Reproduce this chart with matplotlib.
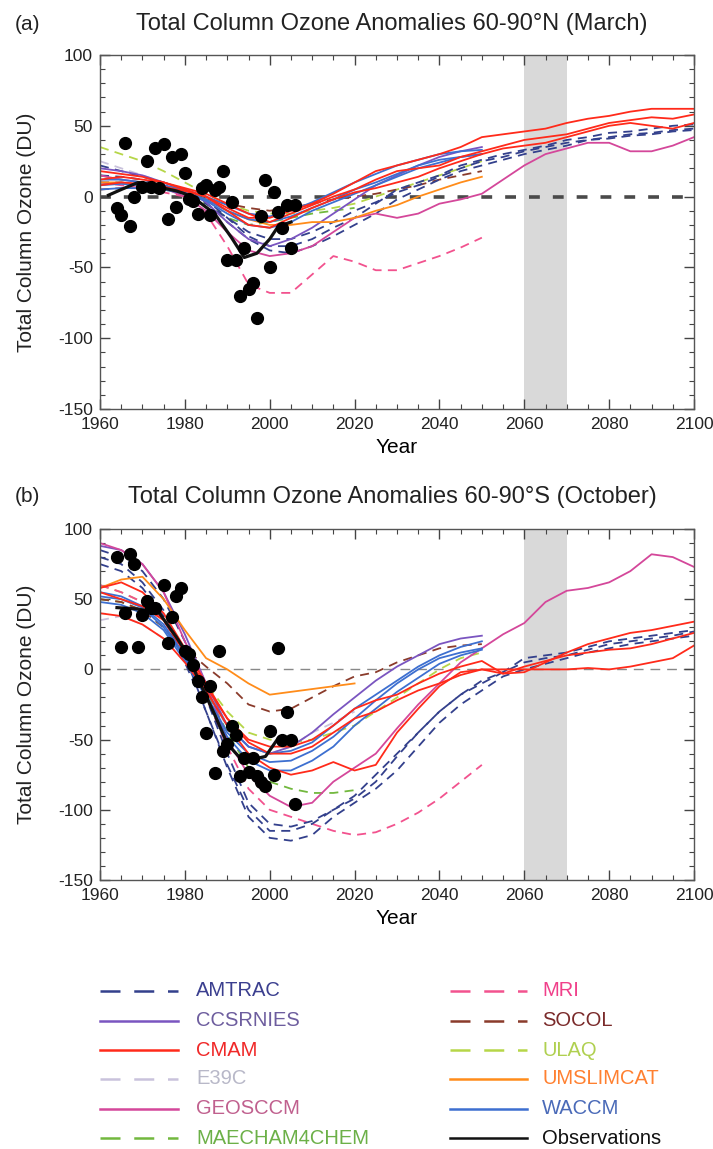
import numpy as np
import matplotlib
matplotlib.use('Agg')
import matplotlib.pyplot as plt
from matplotlib.ticker import MultipleLocator

plt.rcParams['font.family'] = ['Liberation Sans', 'DejaVu Sans']
plt.rcParams['text.color'] = '#222222'
plt.rcParams['axes.unicode_minus'] = False  # plain hyphen on tick labels, as in the original

# ---------------- data (5-year samples from 1960) ----------------
yrs = np.arange(1960, 2101, 5)

# (a) 60-90N March
amtrac_n = [[22, 18, 14, 10, 5, -2, -15, -28, -35, -35, -30, -22, -15, -5, 5, 10, 15, 22, 26, 30, 33, 36, 40, 42, 45, 46, 48, 50, 51],
            [15, 14, 12, 8, 3, -4, -18, -30, -38, -40, -35, -28, -20, -12, -2, 5, 12, 18, 22, 26, 30, 33, 36, 40, 42, 44, 45, 47, 48],
            [10, 10, 8, 6, 2, -5, -15, -25, -30, -30, -25, -18, -10, -4, 3, 8, 14, 20, 25, 28, 32, 35, 38, 40, 41, 43, 44, 46, 47]]
ccsrnies_n = [[20, 18, 15, 10, 5, -4, -18, -30, -35, -30, -22, -12, -2, 8, 15, 22, 28, 32, 35]]
cmam_n = [[12, 14, 12, 10, 5, 0, -8, -15, -15, -10, -5, 2, 10, 18, 22, 26, 30, 35, 42, 44, 46, 48, 52, 55, 57, 60, 62, 62, 62],
          [18, 16, 14, 10, 6, 2, -5, -12, -18, -12, -6, 0, 5, 12, 18, 20, 22, 28, 32, 36, 40, 42, 44, 48, 52, 54, 56, 55, 58],
          [8, 10, 9, 7, 4, 0, -10, -20, -22, -15, -8, -2, 3, 6, 10, 14, 20, 25, 30, 34, 36, 38, 42, 46, 50, 52, 50, 48, 52]]
e39c_n = [[25, 20, 15, 10, 5, 0, -5, -12, -15, -10, -5, 0, 5]]
geosccm_n = [[15, 12, 10, 6, 0, -10, -25, -38, -42, -40, -35, -25, -15, -12, -15, -12, -5, -2, 2, 12, 22, 30, 34, 38, 38, 32, 32, 36, 42]]
maecham_n = [[15, 12, 10, 5, 2, -5, -15, -20, -18, -15, -12, -10, -8]]
mri_n = [[10, 8, 6, 3, 0, -12, -35, -62, -68, -68, -55, -42, -46, -52, -52, -47, -42, -36, -29]]
socol_n = [[5, 6, 6, 5, 3, -2, -5, -8, -10, -8, -5, -2, 0, 2, 5, 8, 12, 15, 18]]
ulaq_n = [[35, 30, 25, 18, 10, 2, -5, -10, -12, -12, -10, -8, -5, 0, 5, 10, 15, 20, 25]]
umslimcat_n = [[10, 10, 8, 6, 3, -2, -10, -16, -20, -20, -18, -18, -15, -10, -6, 0, 5, 10, 14]]
waccm_n = [[12, 12, 10, 8, 5, 0, -6, -12, -14, -10, -4, 3, 10, 16, 22, 26, 30, 32, 33],
           [8, 9, 8, 6, 3, -2, -10, -16, -18, -14, -8, -2, 5, 10, 16, 22, 26, 28, 30],
           [5, 6, 6, 5, 2, -3, -12, -20, -22, -18, -10, -4, 2, 8, 14, 20, 24, 28, 30]]

obs_line_yr_n = [1962, 1965, 1969, 1972, 1975, 1978, 1980, 1983, 1987, 1991, 1994, 1997, 2000, 2002, 2005]
obs_line_n = [1, 5, 10, 8, 6, 4, 2, -3, -12, -29, -43, -40, -30, -21, -18]
obs_yr_n = [1964, 1965, 1966, 1967, 1968, 1970, 1971, 1972, 1973, 1974, 1975, 1976, 1977, 1978, 1979,
            1980, 1981, 1982, 1983, 1984, 1985, 1986, 1987, 1988, 1989, 1990, 1991, 1992, 1993, 1994,
            1995, 1996, 1997, 1998, 1999, 2000, 2001, 2002, 2003, 2004, 2005, 2006]
obs_n = [-8, -13, 38, -21, 0, 7, 25, 7, 34, 6, 37, -16, 28, -7, 30,
         17, -2, -3, -12, 6, 8, -13, 5, 7, 18, -45, -4, -45, -70, -36,
         -65, -61, -86, -14, 12, -50, 3, -11, -22, -6, -36, -6]

# (b) 60-90S October
amtrac_s = [[85, 80, 70, 50, 20, -20, -60, -95, -110, -112, -108, -100, -92, -80, -62, -45, -30, -18, -10, -2, 5, 8, 10, 14, 18, 20, 22, 24, 27],
            [80, 75, 62, 42, 10, -30, -70, -105, -120, -122, -118, -105, -95, -85, -72, -55, -38, -25, -15, -5, 0, 4, 8, 12, 15, 18, 20, 22, 24],
            [75, 70, 58, 38, 5, -30, -68, -100, -115, -115, -110, -100, -90, -75, -60, -45, -30, -18, -8, -2, 8, 10, 12, 16, 20, 22, 24, 26, 28]]
ccsrnies_s = [[88, 85, 75, 55, 25, -10, -40, -55, -60, -55, -45, -32, -20, -8, 2, 10, 18, 22, 24]]
cmam_s = [[58, 62, 55, 40, 15, -10, -35, -50, -55, -55, -50, -40, -28, -22, -18, -10, -3, 2, 6, -3, -2, 5, 12, 18, 22, 26, 28, 31, 34],
          [55, 50, 45, 35, 12, -12, -35, -52, -60, -60, -55, -45, -35, -30, -22, -15, -10, -4, 0, -3, 2, 6, 10, 12, 14, 15, 18, 22, 26],
          [40, 38, 32, 22, 5, -15, -40, -60, -70, -75, -72, -66, -72, -68, -45, -28, -12, -2, 0, 0, 0, 0, 0, 1, 0, 2, 5, 8, 17]]
e39c_s = [[35, 38, 32, 22, 5, -20, -40, -55, -60, -55, -45, -38, -30]]
geosccm_s = [[90, 85, 75, 55, 20, -10, -50, -75, -90, -98, -95, -80, -70, -60, -42, -25, -10, 5, 15, 25, 33, 48, 56, 58, 62, 70, 82, 80, 73]]
maecham_s = [[50, 48, 42, 30, 10, -15, -45, -70, -80, -85, -88, -88, -86]]
mri_s = [[60, 55, 48, 35, 10, -20, -55, -85, -100, -105, -110, -115, -118, -116, -110, -102, -92, -80, -68]]
socol_s = [[50, 48, 42, 30, 15, 2, -10, -25, -30, -28, -20, -12, -5, -2, 5, 10, 15, 17, 18]]
ulaq_s = [[60, 55, 48, 35, 15, -10, -30, -45, -50, -52, -50, -45, -40, -30, -20, -10, 0, 8, 12]]
umslimcat_s = [[58, 64, 66, 50, 28, 8, 0, -10, -18, -16, -14, -12, -10]]
waccm_s = [[55, 52, 45, 32, 10, -15, -40, -55, -60, -58, -52, -40, -28, -18, -8, 2, 10, 16, 20],
           [52, 50, 44, 30, 8, -18, -45, -60, -66, -65, -58, -48, -35, -22, -10, 0, 8, 12, 15],
           [48, 46, 40, 28, 6, -20, -48, -65, -72, -72, -65, -55, -40, -28, -16, -6, 4, 10, 14]]

obs_line_yr_s = [1964, 1969, 1974, 1978, 1981, 1983, 1987, 1990, 1993, 1996, 1999, 2002, 2005]
obs_line_s = [44, 43, 40, 23, 9, -6, -32, -53, -63, -64, -62, -49, -49]
obs_yr_s = [1964, 1965, 1966, 1967, 1968, 1969, 1970, 1971, 1972, 1973, 1975, 1976, 1977, 1978, 1979,
            1980, 1981, 1982, 1983, 1984, 1985, 1986, 1987, 1988, 1989, 1990, 1991, 1992, 1993, 1994,
            1995, 1996, 1997, 1998, 1999, 2000, 2001, 2002, 2003, 2004, 2005, 2006]
obs_s = [80, 16, 40, 82, 75, 16, 39, 49, 44, 44, 60, 19, 37, 52, 58,
         13, 11, 3, -8, -20, -45, -12, -74, 13, -58, -53, -40, -47, -76, -63,
         -73, -63, -76, -80, -83, -44, -75, 15, -50, -30, -50, -96]

# ---------------- styles ----------------
names = ['AMTRAC', 'CCSRNIES', 'CMAM', 'E39C', 'GEOSCCM', 'MAECHAM4CHEM',
         'MRI', 'SOCOL', 'ULAQ', 'UMSLIMCAT', 'WACCM']
colors = {'AMTRAC': '#33408c', 'CCSRNIES': '#7a55c0', 'CMAM': '#ff2a1a', 'E39C': '#c9c2dc',
          'GEOSCCM': '#d4479a', 'MAECHAM4CHEM': '#72b83e', 'MRI': '#f2528e', 'SOCOL': '#8a3b2b',
          'ULAQ': '#b6d648', 'UMSLIMCAT': '#ff8c1a', 'WACCM': '#3d6fd0'}
text_colors = {'AMTRAC': '#3b3f8f', 'CCSRNIES': '#6d5d9e', 'CMAM': '#f02828', 'E39C': '#b8b8c8',
               'GEOSCCM': '#c0608e', 'MAECHAM4CHEM': '#6cb048', 'MRI': '#f0408a', 'SOCOL': '#7a2a2a',
               'ULAQ': '#b0d050', 'UMSLIMCAT': '#ff8030', 'WACCM': '#4a6ab8'}
dashed = {'AMTRAC', 'E39C', 'MAECHAM4CHEM', 'MRI', 'SOCOL', 'ULAQ'}

panel_n = {'AMTRAC': amtrac_n, 'CCSRNIES': ccsrnies_n, 'CMAM': cmam_n, 'E39C': e39c_n,
           'GEOSCCM': geosccm_n, 'MAECHAM4CHEM': maecham_n, 'MRI': mri_n, 'SOCOL': socol_n,
           'ULAQ': ulaq_n, 'UMSLIMCAT': umslimcat_n, 'WACCM': waccm_n}
panel_s = {'AMTRAC': amtrac_s, 'CCSRNIES': ccsrnies_s, 'CMAM': cmam_s, 'E39C': e39c_s,
           'GEOSCCM': geosccm_s, 'MAECHAM4CHEM': maecham_s, 'MRI': mri_s, 'SOCOL': socol_s,
           'ULAQ': ulaq_s, 'UMSLIMCAT': umslimcat_s, 'WACCM': waccm_s}
draw_order = ['E39C', 'MAECHAM4CHEM', 'ULAQ', 'SOCOL', 'MRI', 'AMTRAC', 'CCSRNIES',
              'GEOSCCM', 'UMSLIMCAT', 'WACCM', 'CMAM']

W, H = 713, 1149
fig = plt.figure(figsize=(W / 100, H / 100), dpi=100)
axA = fig.add_axes([100 / W, 1 - 409 / H, 594 / W, 354 / H])
axB = fig.add_axes([100 / W, 1 - 880 / H, 594 / W, 351 / H])


def draw_panel(ax, data, oyr, ov, lyr, lv, zero_style):
    ax.axvspan(2060, 2070, color='#d9d9d9', lw=0, zorder=0)
    ax.axhline(0, **zero_style)
    for nm in draw_order:
        for vals in data[nm]:
            ls = (0, (5, 3.5)) if nm in dashed else '-'
            ax.plot(yrs[:len(vals)], vals, color=colors[nm], lw=1.3, ls=ls, zorder=2)
    ax.plot(lyr, lv, color='#111111', lw=2.3, zorder=3)
    ax.plot(oyr, ov, 'o', color='#000000', ms=8.5, zorder=4)
    ax.set_xlim(1960, 2100)
    ax.set_ylim(-150, 100)
    ax.xaxis.set_major_locator(MultipleLocator(20))
    ax.xaxis.set_minor_locator(MultipleLocator(5))
    ax.yaxis.set_major_locator(MultipleLocator(50))
    ax.yaxis.set_minor_locator(MultipleLocator(10))
    ax.tick_params(which='both', direction='in', top=True, right=True, color='#444444')
    ax.tick_params(which='major', length=7, width=1, labelsize=12.5, labelcolor='#222222')
    ax.tick_params(which='minor', length=3.5, width=0.8)
    ax.tick_params(axis='y', pad=5)
    ax.tick_params(axis='x', pad=6)
    for sp in ax.spines.values():
        sp.set_color('#555555')
        sp.set_linewidth(1.0)
    ax.set_xlabel('Year', fontsize=15, labelpad=4)


draw_panel(axA, panel_n, obs_yr_n, obs_n, obs_line_yr_n, obs_line_n,
           dict(color='#4a4a4a', lw=2.6, ls=(0, (3, 3.6)), zorder=1))
draw_panel(axB, panel_s, obs_yr_s, obs_s, obs_line_yr_s, obs_line_s,
           dict(color='#888888', lw=1.0, ls=(0, (7, 5)), zorder=1))

# titles and y labels
for yc, tag, ttl, (y0, y1) in [(24, '(a)', 'Total Column Ozone Anomalies 60-90°N (March)', (55, 409)),
                               (497, '(b)', 'Total Column Ozone Anomalies 60-90°S (October)', (529, 880))]:
    fig.text(15 / W, 1 - yc / H, tag, fontsize=15, ha='left', va='center')
    fig.text(392 / W, 1 - yc / H, ttl, fontsize=17, ha='center', va='center')
    fig.text(27 / W, 1 - (y0 + y1) / 2 / H, 'Total Column Ozone (DU)', fontsize=15,
             rotation=90, ha='center', va='center')

# legend drawn in pixel space
lg = fig.add_axes([0, 0, 1, 1])
lg.set_xlim(0, W)
lg.set_ylim(H, 0)
lg.axis('off')
rows = [991, 1021, 1050, 1079, 1109, 1138]
left_names = names[:6]
right_names = names[6:] + ['Observations']
for col, (x0, x1, xt) in zip([left_names, right_names], [(100, 178, 196), (450, 527, 542)]):
    for nm, ry in zip(col, rows):
        if nm == 'Observations':
            c, tc, ls = '#111111', '#111111', '-'
        else:
            c, tc = colors[nm], text_colors[nm]
            ls = (0, (8, 5.5)) if nm in dashed else '-'
        lg.plot([x0, x1], [ry, ry], color=c, lw=1.8, ls=ls)
        lg.text(xt, ry, nm, color=tc, fontsize=14.5, ha='left', va='center')

fig.savefig('out.png', dpi=100, facecolor='white')
